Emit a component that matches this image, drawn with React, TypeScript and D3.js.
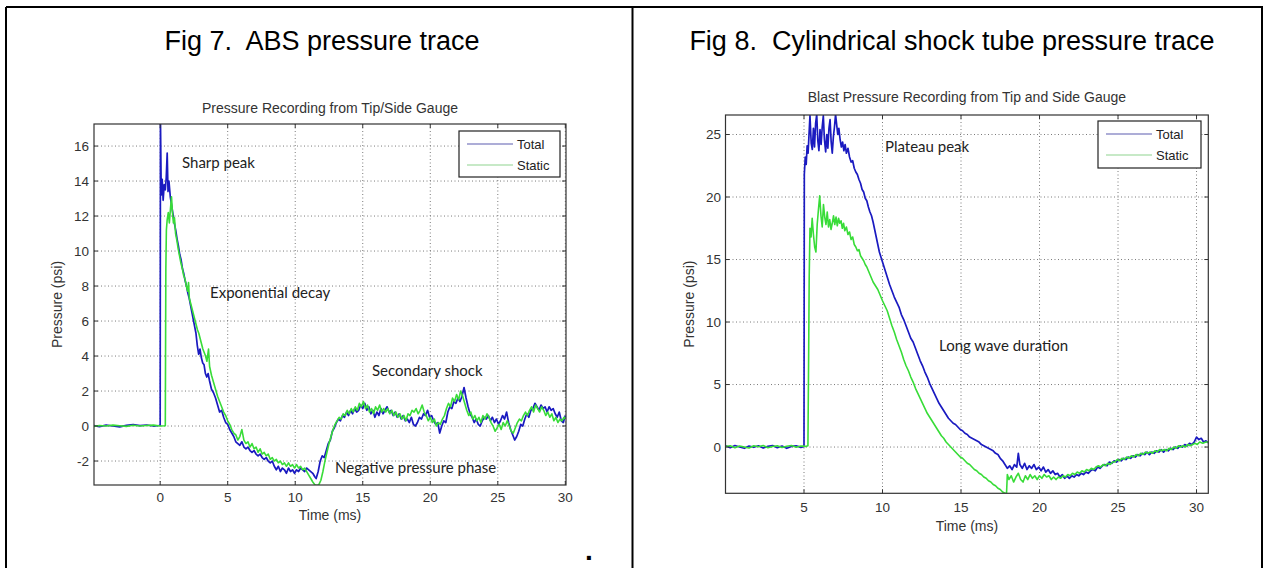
import React from 'react';
import * as d3 from 'd3';

// ---------- data ----------
const seriesNames = ['Total', 'Static'];

const fig7XTicks = [0, 5, 10, 15, 20, 25, 30];
const fig7YTicks = [-2, 0, 2, 4, 6, 8, 10, 12, 14, 16];
const fig8XTicks = [5, 10, 15, 20, 25, 30];
const fig8YTicks = [0, 5, 10, 15, 20, 25];

const fig7Total: [number, number][] = [
  [-4.9, 0.02], [-4.5, -0.03], [-4, 0.05], [-3.5, 0], [-3, -0.05], [-2.5, 0.04], [-2, 0.08], [-1.5, 0.02], [-1, 0.06], [-0.5, 0], [-0.1, 0.03], [0, 0.05],
  [0.02, 17.6], [0.08, 13.2], [0.15, 14.1], [0.22, 12.9], [0.3, 13.8], [0.38, 13.5], [0.45, 14.2], [0.52, 15.6], [0.58, 13.4], [0.65, 14.0], [0.75, 13.1], [0.85, 12.6], [0.95, 12.1],
  [1.05, 11.6], [1.15, 11.2], [1.25, 10.7], [1.35, 10.3], [1.45, 9.8], [1.55, 9.5], [1.65, 9.0], [1.75, 8.7], [1.85, 8.3], [1.95, 8.0], [2.05, 7.6], [2.15, 7.3], [2.25, 6.9],
  [2.35, 6.5], [2.45, 6.1], [2.55, 5.7], [2.65, 5.3], [2.75, 4.6], [2.85, 4.1], [2.95, 4.4], [3.05, 3.9], [3.15, 3.6], [3.25, 3.5], [3.35, 3.0], [3.45, 2.8], [3.55, 3.0],
  [3.65, 2.6], [3.8, 2.1], [3.95, 1.9], [4.1, 1.6], [4.25, 1.2], [4.4, 0.8], [4.55, 0.9], [4.7, 0.5], [4.85, 0.2], [5.0, 0.1], [5.15, -0.2], [5.3, -0.4], [5.45, -0.6],
  [5.6, -0.9], [5.75, -1.0], [5.9, -1.1], [6.05, -0.9], [6.2, -1.2], [6.35, -1.3], [6.5, -1.2], [6.65, -1.4], [6.8, -1.5], [6.95, -1.4], [7.1, -1.6], [7.25, -1.7], [7.4, -1.6],
  [7.55, -1.8], [7.7, -1.9], [7.85, -1.8], [8.0, -2.0], [8.15, -2.1], [8.3, -2.0], [8.45, -2.3], [8.6, -2.5], [8.75, -2.3], [8.9, -2.6], [9.05, -2.4], [9.2, -2.5], [9.35, -2.7],
  [9.5, -2.4], [9.65, -2.6], [9.8, -2.5], [9.95, -2.7], [10.1, -2.5], [10.25, -2.6], [10.4, -2.4], [10.55, -2.5], [10.7, -2.6], [10.85, -2.4], [11.0, -2.5], [11.15, -2.6],
  [11.3, -2.7], [11.45, -2.9], [11.55, -3.0], [11.7, -2.6], [11.85, -2.0], [12.0, -1.7], [12.15, -1.8], [12.3, -1.4], [12.45, -1.0], [12.6, -0.8], [12.75, -0.3], [12.9, -0.1],
  [13.05, 0.2], [13.2, 0.4], [13.35, 0.3], [13.5, 0.6], [13.65, 0.5], [13.8, 0.8], [13.95, 0.6], [14.1, 0.9], [14.25, 0.7], [14.4, 1.0], [14.55, 0.8], [14.7, 0.9], [14.85, 1.2],
  [15.0, 1.0], [15.15, 1.3], [15.3, 0.9], [15.45, 1.1], [15.6, 0.7], [15.75, 0.9], [15.9, 0.5], [16.05, 0.8], [16.2, 0.6], [16.35, 1.0], [16.5, 0.7], [16.65, 0.9], [16.8, 1.1],
  [16.95, 0.8], [17.1, 0.9], [17.25, 0.6], [17.4, 0.8], [17.55, 0.5], [17.7, 0.7], [17.85, 0.4], [18.0, 0.6], [18.15, 0.3], [18.3, 0.4], [18.45, 0.2], [18.6, 0.5], [18.75, 0.1],
  [18.9, 0.0], [19.05, 0.2], [19.2, 0.5], [19.35, 0.4], [19.5, 0.7], [19.65, 0.6], [19.8, 0.9], [19.95, 0.5], [20.1, 0.6], [20.25, 0.3], [20.4, 0.1], [20.55, 0.2], [20.7, -0.4],
  [20.85, 0.0], [21.0, 0.3], [21.15, 0.2], [21.3, 0.8], [21.45, 1.1], [21.6, 1.0], [21.75, 1.4], [21.9, 1.3], [22.05, 1.6], [22.2, 1.4], [22.35, 1.7], [22.5, 2.2], [22.65, 1.6],
  [22.8, 1.1], [22.95, 0.7], [23.1, 0.5], [23.25, 0.2], [23.4, 0.4], [23.55, 0.1], [23.7, 0.0], [23.85, 0.3], [24.0, 0.5], [24.15, 0.4], [24.3, 0.6], [24.45, 0.3], [24.6, 0.5],
  [24.75, 0.2], [24.9, 0.4], [25.05, 0.1], [25.2, 0.3], [25.35, 0.6], [25.5, 0.4], [25.65, 0.8], [25.8, 0.2], [25.95, -0.2], [26.1, -0.5], [26.25, -0.8], [26.4, -0.6],
  [26.55, -0.3], [26.7, 0.1], [26.85, 0.0], [27.0, 0.4], [27.15, 0.7], [27.3, 0.5], [27.45, 0.9], [27.6, 1.0], [27.75, 1.3], [27.9, 1.1], [28.05, 0.9], [28.2, 1.2], [28.35, 1.0],
  [28.5, 1.1], [28.65, 0.8], [28.8, 1.1], [28.95, 0.9], [29.1, 1.0], [29.25, 0.7], [29.4, 0.5], [29.55, 0.8], [29.7, 0.3], [29.85, 0.2], [30.0, 0.6],
];

const fig7Static: [number, number][] = [
  [-4.9, -0.02], [-4.5, 0.03], [-4, 0], [-3.5, 0.05], [-3, 0.02], [-2.5, -0.02], [-2, 0.04], [-1.5, 0], [-1, 0.03], [-0.5, 0.05], [0, 0], [0.38, 0.02],
  [0.42, 9.0], [0.46, 11.2], [0.52, 11.8], [0.6, 12.2], [0.68, 11.6], [0.76, 12.4], [0.84, 13.1], [0.9, 12.3], [0.98, 11.6], [1.06, 11.9], [1.14, 11.0], [1.24, 10.6],
  [1.34, 10.1], [1.44, 9.7], [1.54, 9.3], [1.64, 9.0], [1.74, 8.6], [1.84, 8.4], [1.94, 8.0], [2.04, 7.7], [2.1, 8.2], [2.16, 7.3], [2.26, 7.0], [2.36, 6.7], [2.46, 6.4],
  [2.56, 6.1], [2.66, 5.8], [2.76, 5.5], [2.86, 5.3], [2.96, 5.0], [3.06, 4.7], [3.16, 4.4], [3.26, 4.2], [3.36, 4.0], [3.46, 3.7], [3.58, 4.4], [3.66, 3.4], [3.8, 2.9],
  [3.95, 2.5], [4.1, 2.1], [4.25, 1.7], [4.4, 1.4], [4.55, 1.1], [4.7, 0.8], [4.85, 0.6], [5.0, 0.3], [5.15, 0.1], [5.3, -0.2], [5.45, -0.4], [5.6, -0.5], [5.75, -0.8],
  [5.9, -0.6], [6.05, -0.2], [6.2, -0.8], [6.35, -1.0], [6.5, -0.9], [6.65, -1.2], [6.8, -1.0], [6.95, -1.3], [7.1, -1.2], [7.25, -1.5], [7.4, -1.3], [7.55, -1.6], [7.7, -1.5],
  [7.85, -1.7], [8.0, -1.6], [8.15, -1.9], [8.3, -1.8], [8.45, -2.0], [8.6, -1.9], [8.75, -2.1], [8.9, -2.0], [9.05, -2.2], [9.2, -2.1], [9.35, -2.3], [9.5, -2.1], [9.65, -2.3],
  [9.8, -2.2], [9.95, -2.4], [10.1, -2.2], [10.25, -2.4], [10.4, -2.3], [10.55, -2.5], [10.7, -2.4], [10.85, -2.6], [11.0, -2.8], [11.15, -3.0], [11.3, -3.2], [11.45, -3.35],
  [11.6, -3.4], [11.75, -3.35], [11.9, -3.1], [12.05, -2.6], [12.2, -2.0], [12.35, -1.5], [12.5, -1.0], [12.65, -0.6], [12.8, -0.2], [12.95, 0.1], [13.1, 0.3], [13.25, 0.5],
  [13.4, 0.4], [13.55, 0.7], [13.7, 0.6], [13.85, 0.9], [14.0, 0.7], [14.15, 1.0], [14.3, 0.8], [14.45, 1.1], [14.6, 0.9], [14.75, 1.3], [14.9, 1.1], [15.05, 1.4], [15.2, 1.0],
  [15.35, 1.2], [15.5, 0.8], [15.65, 1.0], [15.8, 0.7], [15.95, 1.1], [16.1, 0.9], [16.25, 1.2], [16.4, 0.8], [16.55, 1.0], [16.7, 0.8], [16.85, 1.0], [17.0, 0.7], [17.15, 0.9],
  [17.3, 0.6], [17.45, 0.8], [17.6, 0.5], [17.75, 0.7], [17.9, 0.4], [18.05, 0.6], [18.2, 0.3], [18.35, 0.7], [18.5, 0.6], [18.65, 0.9], [18.8, 0.8], [18.95, 1.0], [19.1, 0.7],
  [19.25, 0.9], [19.4, 1.2], [19.55, 0.8], [19.7, 0.6], [19.85, 0.3], [20.0, 0.5], [20.15, 0.2], [20.3, 0.4], [20.45, 0.0], [20.6, 0.2], [20.75, 0.1], [20.9, 0.4], [21.05, 0.6],
  [21.2, 1.0], [21.35, 1.3], [21.5, 1.1], [21.65, 1.6], [21.8, 1.4], [21.95, 1.8], [22.1, 1.5], [22.25, 2.0], [22.4, 1.7], [22.55, 1.3], [22.7, 0.9], [22.85, 0.6], [23.0, 0.8],
  [23.15, 0.4], [23.3, 0.6], [23.45, 0.3], [23.6, 0.5], [23.75, 0.2], [23.9, 0.6], [24.05, 0.4], [24.2, 0.7], [24.35, 0.5], [24.5, 0.2], [24.65, 0.0], [24.8, -0.3], [24.95, -0.1],
  [25.1, 0.1], [25.25, -0.2], [25.4, 0.2], [25.55, 0.0], [25.7, 0.3], [25.85, 0.0], [26.0, -0.3], [26.15, -0.4], [26.3, -0.1], [26.45, 0.2], [26.6, 0.4], [26.75, 0.3], [26.9, 0.6],
  [27.05, 0.8], [27.2, 0.6], [27.35, 0.9], [27.5, 1.1], [27.65, 0.8], [27.8, 1.2], [27.95, 1.0], [28.1, 0.8], [28.25, 1.1], [28.4, 0.9], [28.55, 0.6], [28.7, 0.8], [28.85, 0.5],
  [29.0, 0.7], [29.15, 0.3], [29.3, 0.5], [29.45, 0.2], [29.6, 0.4], [29.75, 0.3], [29.9, 0.5], [30.0, 0.4],
];

const fig8Total: [number, number][] = [
  [0, 0.1], [0.3, -0.05], [0.6, 0.12], [0.9, 0], [1.2, -0.1], [1.5, 0.08], [1.8, -0.02], [2.1, 0.1], [2.4, -0.08], [2.7, 0.05], [3.0, 0.12], [3.3, -0.05], [3.6, 0.08],
  [3.9, -0.1], [4.2, 0.05], [4.5, 0.1], [4.8, -0.03], [5.0, 0.05],
  [5.02, 21.8], [5.08, 23.2], [5.14, 22.6], [5.2, 24.1], [5.26, 23.5], [5.32, 25.0], [5.38, 26.5], [5.46, 24.3], [5.53, 23.8], [5.6, 25.5], [5.67, 24.0], [5.74, 25.9],
  [5.81, 26.6], [5.88, 24.5], [5.95, 23.7], [6.02, 25.4], [6.09, 24.2], [6.16, 25.6], [6.23, 26.5], [6.3, 24.6], [6.38, 23.6], [6.45, 25.0], [6.52, 23.9], [6.59, 25.5],
  [6.66, 26.2], [6.73, 24.4], [6.8, 23.5], [6.87, 24.8], [6.94, 25.6], [7.01, 26.6], [7.08, 25.8], [7.15, 25.0], [7.22, 25.5], [7.3, 24.6], [7.38, 24.0], [7.46, 24.4],
  [7.54, 23.7], [7.62, 24.2], [7.7, 23.5], [7.8, 23.9], [7.9, 23.2], [8.0, 22.8], [8.1, 22.9], [8.2, 22.3], [8.3, 22.0], [8.4, 21.8], [8.5, 21.4], [8.6, 21.1], [8.7, 20.6],
  [8.8, 20.4], [8.9, 19.9], [9.0, 19.7], [9.1, 19.2], [9.2, 18.8], [9.3, 18.5], [9.4, 18.0], [9.5, 17.4], [9.6, 16.8], [9.7, 16.2], [9.8, 15.6], [9.9, 15.2], [10.0, 14.8],
  [10.1, 14.4], [10.2, 14.0], [10.3, 13.6], [10.45, 13.0], [10.6, 12.5], [10.75, 12.0], [10.9, 11.6], [11.05, 11.2], [11.2, 10.6], [11.35, 10.2], [11.5, 9.7], [11.65, 9.2],
  [11.8, 8.7], [11.95, 8.4], [12.1, 7.9], [12.25, 7.4], [12.4, 6.9], [12.55, 6.5], [12.7, 6.0], [12.85, 5.6], [13.0, 5.1], [13.15, 4.7], [13.3, 4.3], [13.45, 3.9], [13.6, 3.5],
  [13.75, 3.2], [13.9, 2.9], [14.05, 2.6], [14.2, 2.3], [14.35, 2.1], [14.5, 1.9], [14.65, 1.8], [14.8, 1.6], [14.95, 1.4], [15.1, 1.3], [15.25, 1.1], [15.4, 1.0], [15.55, 0.8],
  [15.7, 0.7], [15.85, 0.6], [16.0, 0.5], [16.15, 0.4], [16.3, 0.2], [16.45, 0.1], [16.6, 0.0], [16.75, -0.1], [16.9, -0.2], [17.05, -0.3], [17.2, -0.5], [17.35, -0.6],
  [17.5, -0.9], [17.65, -1.1], [17.8, -1.4], [17.95, -1.7], [18.1, -1.5], [18.25, -1.8], [18.4, -1.4], [18.55, -1.6], [18.65, -0.5], [18.75, -1.4], [18.9, -1.7], [19.05, -1.3],
  [19.2, -1.8], [19.35, -1.5], [19.5, -1.7], [19.65, -1.4], [19.8, -1.8], [19.95, -1.6], [20.1, -1.9], [20.25, -1.6], [20.4, -2.0], [20.55, -1.8], [20.7, -2.1], [20.85, -1.9],
  [21.0, -2.2], [21.15, -2.1], [21.3, -2.4], [21.45, -2.2], [21.6, -2.5], [21.75, -2.3], [21.9, -2.5], [22.05, -2.3], [22.2, -2.4], [22.35, -2.2], [22.5, -2.3], [22.65, -2.1],
  [22.8, -2.2], [22.95, -2.0], [23.1, -2.1], [23.25, -1.9], [23.4, -1.8], [23.55, -1.9], [23.7, -1.6], [23.85, -1.7], [24.0, -1.5], [24.15, -1.4], [24.3, -1.5], [24.45, -1.2],
  [24.6, -1.3], [24.75, -1.1], [24.9, -1.2], [25.05, -1.0], [25.2, -1.1], [25.35, -0.9], [25.5, -1.0], [25.65, -0.8], [25.8, -0.9], [25.95, -0.7], [26.1, -0.8], [26.25, -0.6],
  [26.4, -0.7], [26.55, -0.5], [26.7, -0.6], [26.85, -0.4], [27.0, -0.6], [27.15, -0.4], [27.3, -0.5], [27.45, -0.3], [27.6, -0.4], [27.75, -0.2], [27.9, -0.4], [28.05, -0.2],
  [28.2, -0.3], [28.35, -0.1], [28.5, -0.2], [28.65, 0.0], [28.8, -0.1], [28.95, 0.1], [29.1, 0.0], [29.25, 0.2], [29.4, 0.1], [29.55, 0.3], [29.7, 0.2], [29.85, 0.4],
  [30.0, 0.8], [30.15, 0.6], [30.3, 0.7], [30.45, 0.4], [30.6, 0.5], [30.8, 0.3],
];

const fig8Static: [number, number][] = [
  [0, 0.05], [0.3, 0.1], [0.6, -0.05], [0.9, 0.08], [1.2, 0], [1.5, -0.08], [1.8, 0.1], [2.1, 0.02], [2.4, 0.12], [2.7, -0.05], [3.0, 0.05], [3.3, 0.1], [3.6, -0.04],
  [3.9, 0.06], [4.2, 0.12], [4.5, -0.02], [4.8, 0.08], [5.1, 0.05], [5.25, 0.1],
  [5.3, 8.0], [5.33, 13.5], [5.38, 17.5], [5.45, 16.8], [5.52, 18.3], [5.6, 17.0], [5.68, 16.0], [5.76, 15.6], [5.84, 17.8], [5.92, 19.0], [6.0, 20.1], [6.08, 18.5],
  [6.16, 17.6], [6.24, 19.4], [6.32, 18.4], [6.4, 17.8], [6.48, 18.8], [6.56, 17.6], [6.64, 18.2], [6.72, 17.4], [6.8, 17.9], [6.88, 18.5], [6.96, 17.8], [7.04, 18.4],
  [7.12, 17.7], [7.2, 18.3], [7.28, 17.9], [7.36, 18.1], [7.44, 17.5], [7.52, 17.9], [7.6, 17.3], [7.7, 17.6], [7.8, 17.0], [7.9, 17.2], [8.0, 16.6], [8.1, 16.8], [8.2, 16.2],
  [8.3, 16.0], [8.4, 15.7], [8.5, 15.8], [8.6, 15.3], [8.7, 15.1], [8.8, 14.9], [8.9, 14.6], [9.0, 14.4], [9.1, 14.1], [9.2, 13.8], [9.3, 13.5], [9.4, 13.2], [9.5, 13.0],
  [9.6, 12.8], [9.7, 12.6], [9.8, 12.3], [9.9, 12.0], [10.0, 11.7], [10.15, 11.3], [10.3, 10.9], [10.45, 10.3], [10.6, 9.7], [10.75, 9.2], [10.9, 8.6], [11.05, 8.1], [11.2, 7.6],
  [11.35, 7.0], [11.5, 6.5], [11.65, 6.1], [11.8, 5.6], [11.95, 5.2], [12.1, 4.7], [12.25, 4.3], [12.4, 3.9], [12.55, 3.5], [12.7, 3.1], [12.85, 2.7], [13.0, 2.4], [13.15, 2.1],
  [13.3, 1.8], [13.45, 1.5], [13.6, 1.2], [13.75, 0.9], [13.9, 0.7], [14.05, 0.4], [14.2, 0.2], [14.35, 0.0], [14.5, -0.2], [14.65, -0.4], [14.8, -0.6], [14.95, -0.8],
  [15.1, -0.9], [15.25, -1.1], [15.4, -1.3], [15.55, -1.4], [15.7, -1.6], [15.85, -1.8], [16.0, -1.9], [16.15, -2.1], [16.3, -2.2], [16.45, -2.4], [16.6, -2.5], [16.75, -2.7],
  [16.9, -2.8], [17.05, -3.0], [17.2, -3.1], [17.35, -3.3], [17.5, -3.4], [17.65, -3.6], [17.8, -3.7], [17.9, -3.7], [17.95, -2.2], [18.05, -2.6], [18.2, -2.3], [18.35, -2.8],
  [18.5, -2.4], [18.65, -2.1], [18.8, -2.6], [18.95, -2.8], [19.1, -2.3], [19.25, -2.6], [19.4, -2.2], [19.55, -2.5], [19.7, -2.3], [19.85, -2.6], [20.0, -2.3], [20.15, -2.5],
  [20.3, -2.2], [20.45, -2.4], [20.6, -2.3], [20.75, -2.6], [20.9, -2.4], [21.05, -2.6], [21.2, -2.4], [21.35, -2.5], [21.5, -2.3], [21.65, -2.4], [21.8, -2.2], [21.95, -2.3],
  [22.1, -2.1], [22.25, -2.2], [22.4, -2.0], [22.55, -2.1], [22.7, -1.9], [22.85, -2.0], [23.0, -1.8], [23.15, -1.9], [23.3, -1.7], [23.45, -1.8], [23.6, -1.6], [23.75, -1.5],
  [23.9, -1.6], [24.05, -1.4], [24.2, -1.5], [24.35, -1.3], [24.5, -1.4], [24.65, -1.2], [24.8, -1.2], [24.95, -1.0], [25.1, -1.1], [25.25, -0.9], [25.4, -1.0], [25.55, -0.8],
  [25.7, -0.9], [25.85, -0.7], [26.0, -0.8], [26.15, -0.6], [26.3, -0.7], [26.45, -0.5], [26.6, -0.6], [26.75, -0.4], [26.9, -0.5], [27.05, -0.4], [27.2, -0.5], [27.35, -0.3],
  [27.5, -0.4], [27.65, -0.2], [27.8, -0.3], [27.95, -0.2], [28.1, -0.3], [28.25, -0.1], [28.4, -0.2], [28.55, 0.0], [28.7, -0.1], [28.85, 0.1], [29.0, 0.0], [29.15, 0.1],
  [29.3, 0.0], [29.45, 0.2], [29.6, 0.1], [29.75, 0.2], [29.9, 0.3], [30.05, 0.2], [30.2, 0.4], [30.4, 0.3], [30.6, 0.4], [30.8, 0.4],
];

// ---------- styling ----------
const BLUE = '#1a1ac0';
const GREEN = '#38dc38';
const LEG_BLUE = '#5c5cb0';
const LEG_GREEN = '#8fd48f';
const AX_FONT = '"Liberation Sans", Arial, sans-serif';
const ANN_FONT = 'Lato, "Open Sans", sans-serif';

type Ann = { text: string; x: number; y: number };

type PlotProps = {
  id: string;
  left: number; right: number; top: number; bottom: number;
  xDomain: [number, number]; yDomain: [number, number];
  xTicks: number[]; yTicks: number[];
  total: [number, number][]; stat: [number, number][];
  title: string; titleY: number;
  yLabelX: number; xLabelY: number; xTickY: number; yTickX: number;
  legend: { x: number; y: number; w: number; h: number };
  annotations: Ann[];
};

function Plot(p: PlotProps) {
  const x = d3.scaleLinear().domain(p.xDomain).range([p.left, p.right]);
  const y = d3.scaleLinear().domain(p.yDomain).range([p.bottom, p.top]);
  const line = d3.line<[number, number]>().x((d) => x(d[0])).y((d) => y(d[1]));
  const cx = (p.left + p.right) / 2;
  const cy = (p.top + p.bottom) / 2;
  const tick = 4;
  const lg = p.legend;
  return (
    <g>
      <defs>
        <clipPath id={p.id}>
          <rect x={p.left} y={p.top} width={p.right - p.left} height={p.bottom - p.top} />
        </clipPath>
      </defs>
      {/* grid */}
      <g stroke="#7a7a7a" strokeWidth={1} strokeDasharray="1,2.5">
        {p.xTicks.map((t) => (
          <line key={'gx' + t} x1={x(t)} x2={x(t)} y1={p.top} y2={p.bottom} />
        ))}
        {p.yTicks.map((t) => (
          <line key={'gy' + t} x1={p.left} x2={p.right} y1={y(t)} y2={y(t)} />
        ))}
      </g>
      {/* traces */}
      <g clipPath={`url(#${p.id})`} fill="none" strokeLinejoin="round">
        <path d={line(p.total) || ''} stroke={BLUE} strokeWidth={1.7} />
        <path d={line(p.stat) || ''} stroke={GREEN} strokeWidth={1.6} />
      </g>
      {/* ticks */}
      <g stroke="#333" strokeWidth={1}>
        {p.xTicks.map((t) => (
          <g key={'tx' + t}>
            <line x1={x(t)} x2={x(t)} y1={p.bottom} y2={p.bottom - tick} />
            <line x1={x(t)} x2={x(t)} y1={p.top} y2={p.top + tick} />
          </g>
        ))}
        {p.yTicks.map((t) => (
          <g key={'ty' + t}>
            <line x1={p.left} x2={p.left + tick} y1={y(t)} y2={y(t)} />
            <line x1={p.right} x2={p.right - tick} y1={y(t)} y2={y(t)} />
          </g>
        ))}
      </g>
      <rect x={p.left} y={p.top} width={p.right - p.left} height={p.bottom - p.top} fill="none" stroke="#333" strokeWidth={1.2} />
      {/* tick labels */}
      <g fontFamily={AX_FONT} fontSize={13.5} fill="#333">
        {p.xTicks.map((t) => (
          <text key={'lx' + t} x={x(t)} y={p.xTickY} textAnchor="middle">{t}</text>
        ))}
        {p.yTicks.map((t) => (
          <text key={'ly' + t} x={p.yTickX} y={y(t) + 4.8} textAnchor="end">{t}</text>
        ))}
      </g>
      {/* titles */}
      <text x={cx} y={p.titleY} textAnchor="middle" fontFamily={AX_FONT} fontSize={14} fill="#333">{p.title}</text>
      <text x={cx} y={p.xLabelY} textAnchor="middle" fontFamily={AX_FONT} fontSize={14} fill="#333">Time (ms)</text>
      <text transform={`translate(${p.yLabelX},${cy}) rotate(-90)`} textAnchor="middle" fontFamily={AX_FONT} fontSize={14} fill="#333">Pressure (psi)</text>
      {/* legend */}
      <rect x={lg.x} y={lg.y} width={lg.w} height={lg.h} fill="#fff" stroke="#222" strokeWidth={1.2} />
      {seriesNames.map((n, i) => {
        const ly = lg.y + 13 + i * 21;
        return (
          <g key={n}>
            <line x1={lg.x + 8} x2={lg.x + 54} y1={ly} y2={ly} stroke={i === 0 ? LEG_BLUE : LEG_GREEN} strokeWidth={1.2} />
            <text x={lg.x + 58} y={ly + 4.5} fontFamily={AX_FONT} fontSize={13} fill="#222">{n}</text>
          </g>
        );
      })}
      {/* annotations */}
      {p.annotations.map((a) => (
        <text key={a.text} x={a.x} y={a.y} fontFamily={ANN_FONT} fontSize={15} fill="#222">{a.text}</text>
      ))}
    </g>
  );
}

export default function App() {
  return (
    <svg width={1268} height={568} style={{ position: 'absolute', left: 0, top: 0, background: '#fff' }}>
      <rect x={0} y={0} width={1268} height={568} fill="#fff" />
      {/* table frame */}
      <g stroke="#000" strokeWidth={2} fill="none">
        <line x1={6} x2={1263} y1={7} y2={7} />
        <line x1={6} x2={6} y1={7} y2={568} />
        <line x1={632.5} x2={632.5} y1={7} y2={568} />
        <line x1={1262} x2={1262} y1={7} y2={568} />
      </g>
      <text x={322} y={50} textAnchor="middle" fontFamily={AX_FONT} fontSize={27} fill="#000" style={{ whiteSpace: 'pre' }}>Fig 7.  ABS pressure trace</text>
      <text x={952} y={50} textAnchor="middle" fontFamily={AX_FONT} fontSize={27} fill="#000" style={{ whiteSpace: 'pre' }}>Fig 8.  Cylindrical shock tube pressure trace</text>
      <text x={585} y={560} fontFamily={AX_FONT} fontSize={28} fontWeight="bold" fill="#000">.</text>

      <Plot
        id="clip7"
        left={94} right={566} top={124} bottom={485}
        xDomain={[-4.9, 30.05]} yDomain={[-3.37, 17.26]}
        xTicks={fig7XTicks} yTicks={fig7YTicks}
        total={fig7Total} stat={fig7Static}
        title="Pressure Recording from Tip/Side Gauge" titleY={113}
        yLabelX={62} xLabelY={520} xTickY={502} yTickX={89}
        legend={{ x: 459, y: 131, w: 101, h: 46 }}
        annotations={[
          { text: 'Sharp peak', x: 182, y: 168 },
          { text: 'Exponential decay', x: 210, y: 298 },
          { text: 'Secondary shock', x: 372, y: 376 },
          { text: 'Negative pressure phase', x: 335, y: 473 },
        ]}
      />
      <Plot
        id="clip8"
        left={725.5} right={1208.3} top={115} bottom={493.3}
        xDomain={[0, 30.75]} yDomain={[-3.7, 26.56]}
        xTicks={fig8XTicks} yTicks={fig8YTicks}
        total={fig8Total} stat={fig8Static}
        title="Blast Pressure Recording from Tip and Side Gauge" titleY={102}
        yLabelX={694} xLabelY={531} xTickY={512} yTickX={721}
        legend={{ x: 1098, y: 121, w: 103, h: 47 }}
        annotations={[
          { text: 'Plateau peak', x: 885, y: 152 },
          { text: 'Long wave duration', x: 939, y: 351 },
        ]}
      />
    </svg>
  );
}
